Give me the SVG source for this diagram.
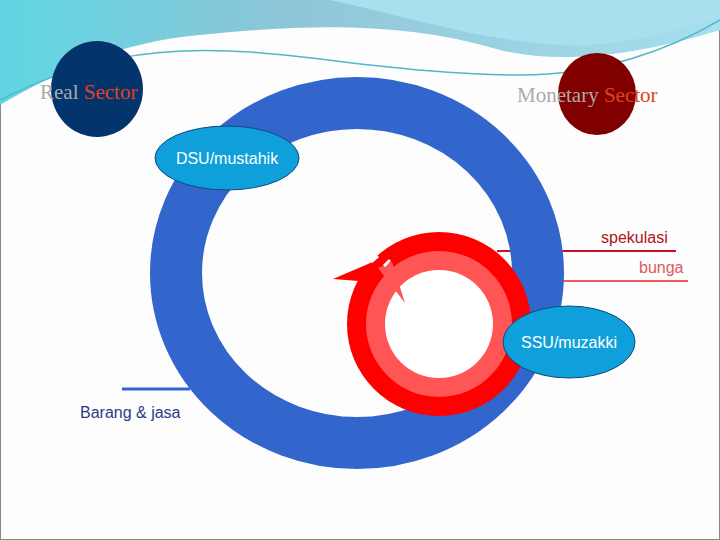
<svg xmlns="http://www.w3.org/2000/svg" width="720" height="540" viewBox="0 0 720 540">
<defs>
<linearGradient id="wave" x1="0" y1="0" x2="1" y2="0"><stop offset="0" stop-color="#5fd6e2"/><stop offset="0.4" stop-color="#8ec5d8"/><stop offset="1" stop-color="#a7dfee"/></linearGradient>
<style>
.lbl{font-family:"Liberation Sans",Arial,sans-serif;font-size:16px}
.ser{font-family:"Liberation Serif","Times New Roman",serif;font-size:21px}
</style>
</defs>
<rect x="0" y="0" width="720" height="540" fill="#fdfdfd" stroke="#888" stroke-width="2"/>
<g id="header">
<path d="M0,0 H720 V30 C640,55 560,65 500,50 C400,20 300,25 200,35 C120,42 60,70 0,105 Z" fill="url(#wave)"/>
<path d="M330,0 C420,20 480,40 560,45 C620,48 680,30 720,15 V0 Z" fill="#a9e0ee"/>
<path d="M0,100 C80,60 150,45 250,52 C330,58 420,75 520,75 C600,75 670,50 720,20" fill="none" stroke="#4fb8c8" stroke-width="1.5"/>
</g>
<g id="connectors">
<line x1="122" y1="389" x2="190" y2="389" stroke="#3366cc" stroke-width="3"/>
<line x1="497" y1="251" x2="676" y2="251" stroke="#c8102e" stroke-width="2"/>
<line x1="505" y1="281" x2="688" y2="281" stroke="#f05a5a" stroke-width="2"/>
</g>
<g id="blue-ring"><ellipse cx="357" cy="273" rx="181" ry="170" fill="none" stroke="#3366cc" stroke-width="52"/></g>
<g id="red-ring">
<circle cx="439" cy="324" r="92" fill="#ff0000"/>
<circle cx="439" cy="324" r="73" fill="#ff5555"/>
<circle cx="439" cy="324" r="54" fill="#ffffff"/>
<polygon points="333,279 382,258 372,282" fill="#ff0000"/>
<polygon points="405,303 378,268 392,262" fill="#ff5555"/>
<path d="M371,262 l7,-6 M384,266 l6,-6" stroke="#fff" stroke-width="3"/>
</g>
<g id="real-sector"><ellipse cx="97" cy="89" rx="46" ry="48" fill="#04346c"/><text class="ser" x="40" y="99" fill="#aaaaaa">Real <tspan fill="#e0401e">Sector</tspan></text></g>
<g id="monetary-sector"><ellipse cx="597" cy="94" rx="39" ry="41" fill="#800000"/><text class="ser" x="517" y="102" fill="#aaaaaa">Monetary <tspan fill="#e0401e">Sector</tspan></text></g>
<g id="dsu"><ellipse cx="227" cy="158" rx="72" ry="32" fill="#0fa0dc" stroke="#0a4a80"/><text class="lbl" x="227" y="164" text-anchor="middle" fill="#fff">DSU/mustahik</text></g>
<g id="ssu"><ellipse cx="569" cy="342" rx="66" ry="36" fill="#0fa0dc" stroke="#0a4a80"/><text class="lbl" x="569" y="348" text-anchor="middle" fill="#fff">SSU/muzakki</text></g>
<text class="lbl" x="601" y="243" fill="#b01020">spekulasi</text>
<text class="lbl" x="639" y="273" fill="#e05a5a">bunga</text>
<text class="lbl" x="80" y="418" fill="#2a3a8a">Barang &amp; jasa</text>
</svg>
